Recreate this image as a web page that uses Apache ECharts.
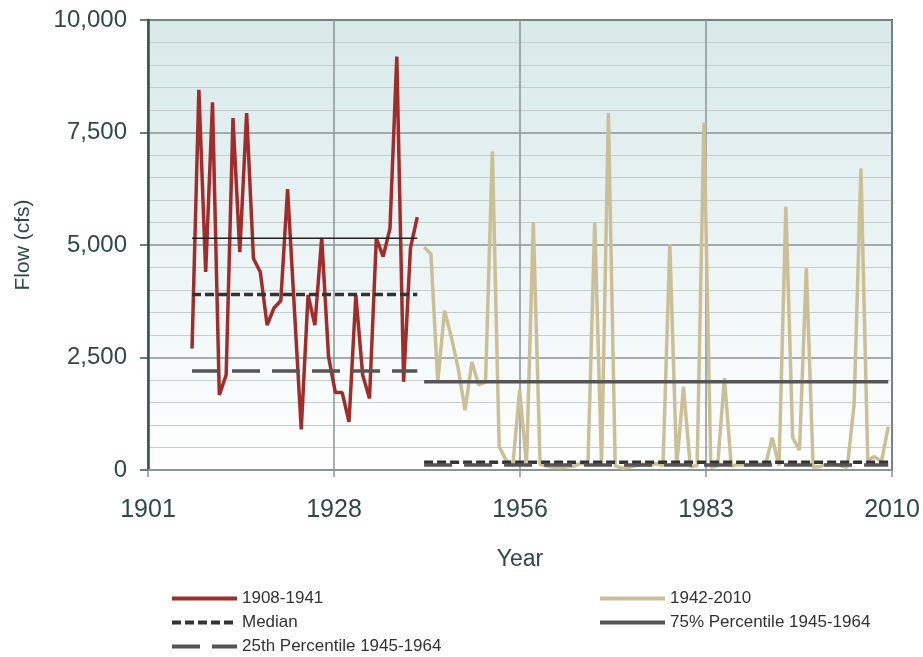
<!DOCTYPE html>
<html><head><meta charset="utf-8">
<script src="https://cdn.jsdelivr.net/npm/echarts@6/dist/echarts.min.js"></script>
<style>html,body{margin:0;padding:0;background:#fff}#c{width:923px;height:657px}</style>
</head><body><div id="c"></div>
<script>
// ---- data ----
const xTickYears = [1901, 1928, 1956, 1983, 2010];
const yTicks = [0, 2500, 5000, 7500, 10000];

const earlyStartYear = 1908;
const earlyFlow = [2700, 8450, 4400, 8170, 1670, 2110, 7820, 4840, 7930, 4700,
  4400, 3220, 3600, 3760, 6240, 3570, 900, 3890, 3220, 5160,
  2520, 1720, 1720, 1070, 3890, 2110, 1590, 5150, 4740, 5370,
  9190, 1960, 4930, 5620];

const lateStartYear = 1942;
const lateFlow = [4950, 4800, 1960, 3540, 2950, 2250, 1330, 2400, 1890, 1960,
  7080, 520, 220, 110, 1780, 100, 5500, 120, 90, 60,
  50, 70, 90, 150, 120, 5500, 100, 7930, 90, 40,
  60, 100, 130, 110, 140, 100, 5020, 80, 1850, 80,
  100, 7720, 60, 100, 2040, 90, 120, 110, 130, 140,
  110, 720, 90, 5850, 720, 440, 4480, 60, 80, 120,
  140, 100, 60, 1460, 6700, 220, 300, 180, 960];

const earlyMedian = 3900, earlyP25 = 2200, earlyP75 = 5150;
const lateMedian = 170, lateP25 = 110, lateP75 = 1960;

// ---- helpers ----
const X_SPAN = xTickYears[xTickYears.length - 1] - xTickYears[0];
const X_STEP = X_SPAN / (xTickYears.length - 1);
const yearToX = y => y - xTickYears[0] - 0.55;
const toPts = (start, arr) => arr.map((v, i) => [yearToX(start + i), v]);
const flat = (y0, y1, v) => [[yearToX(y0), v], [yearToX(y1), v]];
const earlyEnd = earlyStartYear + earlyFlow.length - 1;
const lateEnd = lateStartYear + lateFlow.length - 1;

const TXT = '#2F4A44';
const FONT = 'Liberation Sans, Arial, sans-serif';

const chart = echarts.init(document.getElementById('c'), null, {renderer: 'canvas'});

const legendBase = {
  orient: 'horizontal', padding: 0, itemWidth: 65, itemHeight: 14, itemGap: 10,
  textStyle: {fontSize: 17, color: '#333', fontFamily: FONT},
  itemStyle: {opacity: 0},
  lineStyle: {width: 4}
};

const line = (name, data, color, width, type, z) => ({
  name, type: 'line', data, symbol: 'none', showSymbol: false, z: z || 2,
  lineStyle: {color, width, type: type || 'solid', cap: 'butt'},
  itemStyle: {color}, emphasis: {disabled: true}, animation: false
});

chart.setOption({
  animation: false,
  grid: {
    left: 148, right: 31, top: 20, bottom: 187, show: true,
    containLabel: false, outerBoundsMode: 'none',
    borderColor: '#35554c', borderWidth: 2,
    backgroundColor: {type: 'linear', x: 0, y: 0, x2: 0, y2: 1,
      colorStops: [{offset: 0, color: '#d8e9ea'}, {offset: 1, color: '#ffffff'}]}
  },
  legend: [
    Object.assign({}, legendBase, {data: ['1908-1941'], left: 170, top: 590}),
    Object.assign({}, legendBase, {data: ['1942-2010'], left: 598, top: 590}),
    Object.assign({}, legendBase, {data: ['Median'], left: 170, top: 614}),
    Object.assign({}, legendBase, {data: ['75% Percentile 1945-1964'], left: 598, top: 614}),
    Object.assign({}, legendBase, {data: ['25th Percentile 1945-1964'], left: 170, top: 638})
  ],
  xAxis: {
    type: 'value', min: 0, max: X_SPAN, interval: X_STEP,
    name: 'Year', nameLocation: 'middle', nameGap: 78,
    nameTextStyle: {fontSize: 23, color: TXT, fontFamily: FONT},
    axisLine: {show: true, lineStyle: {color: '#8a9595', width: 2}},
    axisTick: {show: true, length: 7, lineStyle: {color: '#8a9595', width: 1.5}},
    axisLabel: {margin: 28, fontSize: 25, color: TXT, fontFamily: FONT,
      formatter: v => String(xTickYears[Math.round(v / X_STEP)])},
    splitLine: {show: true, lineStyle: {color: '#8a9595', width: 1.5}}
  },
  yAxis: {
    type: 'value', min: yTicks[0], max: yTicks[yTicks.length - 1], interval: yTicks[1] - yTicks[0],
    name: 'Flow (cfs)', nameLocation: 'middle', nameGap: 114, nameRotate: 90,
    nameTextStyle: {fontSize: 21, color: TXT, fontFamily: FONT},
    axisLine: {show: true, lineStyle: {color: '#35554c', width: 2.5}},
    axisTick: {show: true, length: 8, lineStyle: {color: '#35554c', width: 1.5}},
    axisLabel: {margin: 21, fontSize: 24, color: TXT, fontFamily: FONT,
      formatter: v => v.toLocaleString('en-US')},
    splitLine: {show: true, lineStyle: {color: '#8a9595', width: 1.5}},
    minorTick: {show: false, splitNumber: 5},
    minorSplitLine: {show: true, lineStyle: {color: '#c5cdcd', width: 1}}
  },
  series: [
    line('1908-1941', toPts(earlyStartYear, earlyFlow), '#A02C2C', 3.5, 'solid', 3),
    line('1942-2010', toPts(lateStartYear, lateFlow), '#CBBF98', 3.5, 'solid', 3),
    line('Median', flat(earlyStartYear, earlyEnd, earlyMedian), '#333333', 3.5, [9, 4], 5),
    line('Median', flat(lateStartYear, lateEnd, lateMedian), '#333333', 3.5, [9, 4], 5),
    line('75% Percentile 1945-1964', flat(lateStartYear, lateEnd, lateP75), '#555555', 3.5, 'solid', 5),
    line('75th 1908-1941', flat(earlyStartYear, earlyEnd, earlyP75), '#222222', 1.5, 'solid', 5),
    line('25th Percentile 1945-1964', flat(earlyStartYear, earlyEnd, earlyP25), '#555555', 3.5, [28, 12], 5),
    line('25th Percentile 1945-1964', flat(lateStartYear, lateEnd, lateP25), '#555555', 3.5, [28, 12], 5)
  ]
});
</script></body></html>
